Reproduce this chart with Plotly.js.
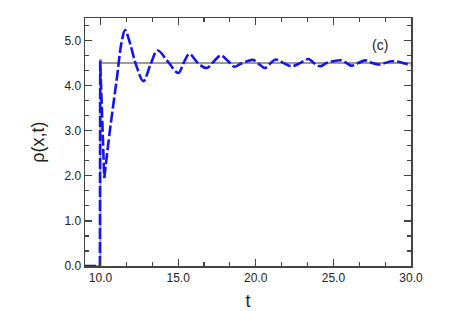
<!DOCTYPE html>
<html>
<head>
<meta charset="utf-8">
<script src="https://cdn.plot.ly/plotly-3.0.1.min.js"></script>
<style>
  html, body { margin: 0; padding: 0; background: #fff; }
  #plot { width: 464px; height: 311px; }
</style>
</head>
<body>
<div id="plot"></div>
<script>
// Values.

// steady state (gray solid line)
const tSteady = [9, 9.99, 9.99, 10.1, 30];
const rhoSteady = [0, 0, 4.59, 4.5, 4.5];

// initial jump of the dashed curve
const tJump = [9, 9.96, 9.98, 10.24];
const rhoJump = [0, 0, 4.55, 1.95];

// damped oscillation of the dashed curve
const tWave = [10.24, 10.61, 11.04, 11.35, 11.58, 11.85, 12.3, 12.76, 13.2, 13.68,
  14.3, 15.01, 15.35, 15.72, 16.3, 16.84, 17.25, 17.75, 18.2, 18.62,
  19.0, 19.45, 19.84, 20.2, 20.6, 20.9, 21.28, 21.8, 22.32, 22.85,
  23.39, 23.75, 24.14, 24.55, 24.98, 25.54, 25.85, 26.18, 26.6, 27.04,
  27.45, 27.9, 28.3, 28.76, 29.2, 29.6, 30.0];
const rhoWave = [1.95, 3.02, 4.13, 4.95, 5.23, 5.0, 4.45, 4.10, 4.45, 4.78,
  4.55, 4.28, 4.5, 4.70, 4.49, 4.39, 4.52, 4.67, 4.55, 4.42,
  4.48, 4.54, 4.57, 4.48, 4.39, 4.48, 4.58, 4.5, 4.43, 4.5,
  4.59, 4.5, 4.43, 4.5, 4.54, 4.56, 4.5, 4.44, 4.5, 4.56,
  4.51, 4.47, 4.5, 4.54, 4.53, 4.49, 4.46];

const panelLabel = '(c)';

const blueLine = { color: '#1414f0', width: 2.6, dash: '11px,3px' };

const traces = [
  {
    x: tSteady, y: rhoSteady, mode: 'lines',
    line: { color: '#9a9a9a', width: 2 },
  },
  {
    x: tJump, y: rhoJump, mode: 'lines',
    line: blueLine,
  },
  {
    x: tWave, y: rhoWave, mode: 'lines',
    line: Object.assign({ shape: 'spline', smoothing: 1 }, blueLine),
  },
];

const axisCommon = {
  showgrid: false,
  zeroline: false,
  showline: true,
  linecolor: '#444',
  linewidth: 1.5,
  mirror: 'ticks',
  ticks: 'inside',
  ticklen: 7,
  tickwidth: 1.2,
  tickcolor: '#444',
  tickformat: '.1f',
  tickfont: { family: 'Liberation Sans, Arial, sans-serif', size: 12, color: '#222' },
};

const layout = {
  width: 464,
  height: 311,
  margin: { l: 85, r: 53, t: 18, b: 45 },
  paper_bgcolor: '#fff',
  plot_bgcolor: '#fff',
  showlegend: false,
  xaxis: Object.assign({}, axisCommon, {
    range: [9, 30],
    tick0: 10,
    dtick: 5,
    minor: { tick0: 10, dtick: 5 / 3, ticks: 'inside', ticklen: 4, tickcolor: '#444', tickwidth: 1.2 },
    title: { text: 't', standoff: 13,
      font: { family: 'Liberation Sans, Arial, sans-serif', size: 18, color: '#222' } },
  }),
  yaxis: Object.assign({}, axisCommon, {
    range: [0, 5.5],
    tick0: 0,
    dtick: 1,
    minor: { tick0: 0, dtick: 1 / 3, ticks: 'inside', ticklen: 4, tickcolor: '#444', tickwidth: 1.2 },
    title: { text: 'ρ(x,t)', standoff: 15,
      font: { family: 'Liberation Sans, Arial, sans-serif', size: 18, color: '#222' } },
  }),
  annotations: [
    {
      text: panelLabel, xref: 'paper', yref: 'paper', x: 0.936, y: 0.93,
      showarrow: false,
      font: { family: 'Liberation Sans, Arial, sans-serif', size: 14, color: '#222' },
    },
  ],
};

Plotly.newPlot('plot', traces, layout, { staticPlot: true, displayModeBar: false });
</script>
</body>
</html>
